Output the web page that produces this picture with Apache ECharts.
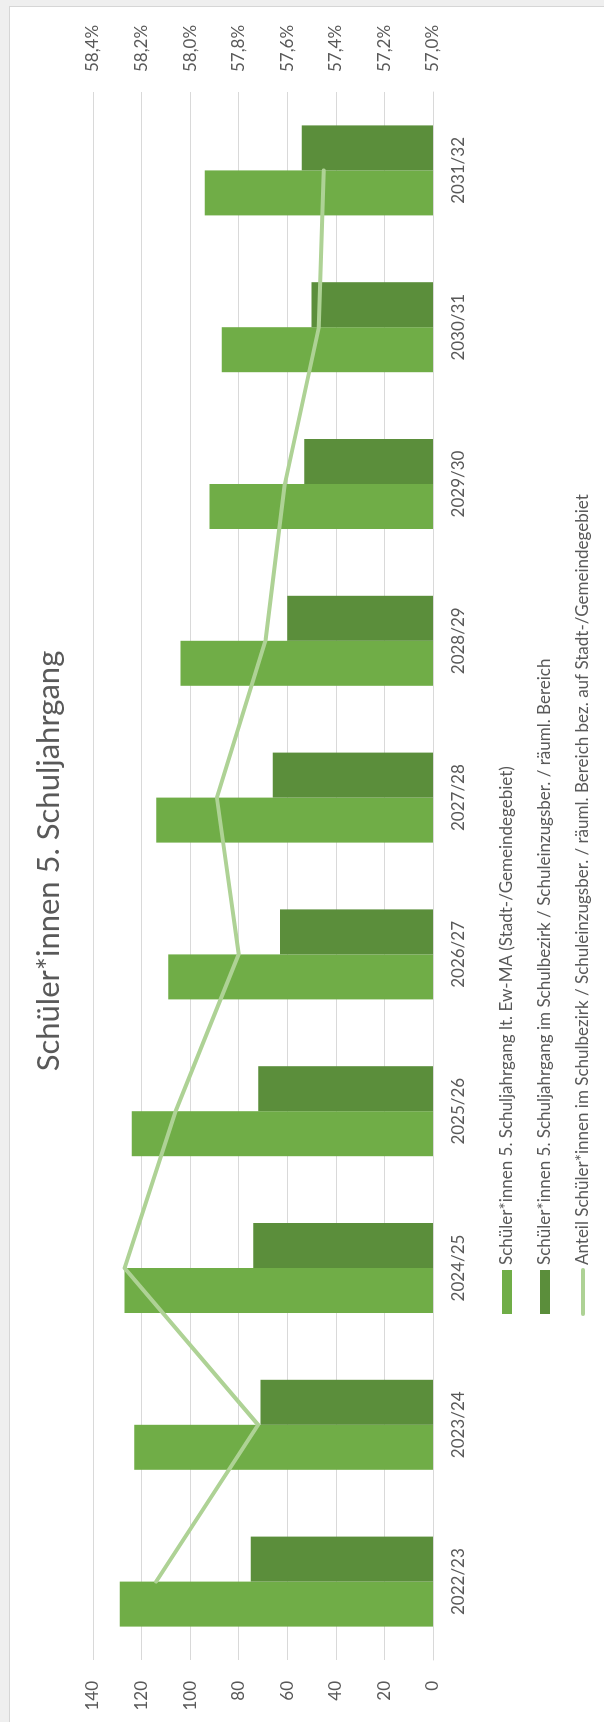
<!DOCTYPE html>
<html lang="de">
<head>
<meta charset="utf-8">
<title>Schüler*innen 5. Schuljahrgang</title>
<script src="https://cdn.jsdelivr.net/npm/echarts@6/dist/echarts.min.js"></script>
<style>
  html, body { margin: 0; padding: 0; width: 604px; height: 1722px; overflow: hidden; background: #efefef; }
  #panel { position: absolute; left: 9px; top: 6px; width: 620px; height: 1740px; background: #ffffff;
           border-left: 1px solid #d6d6d6; border-top: 1px solid #d6d6d6; }
  /* the chart is laid out landscape and turned a quarter turn to stand upright */
  #chart { position: absolute; left: 0; top: 0; width: 1722px; height: 604px;
           transform-origin: 0 0; transform: translateY(1722px) rotate(-90deg); }
</style>
</head>
<body>
<div id="panel"></div>
<div id="chart"></div>
<script>
// school years
const categories = ['2022/23', '2023/24', '2024/25', '2025/26', '2026/27', '2027/28', '2028/29', '2029/30', '2030/31', '2031/32'];
// pupils in grade 5, whole municipality (Ew-MA)
const ewmaValues = [129, 123, 127, 124, 109, 114, 104, 92, 87, 94];
// pupils in grade 5 within the school district
const bezirkValues = [75, 71, 74, 72, 63, 66, 60, 53, 50, 54];
// share of district pupils relative to the municipality, in percent
const anteilValues = [58.14, 57.72, 58.27, 58.06, 57.80, 57.89, 57.69, 57.61, 57.47, 57.45];
// axis ticks
const countTicks = [0, 20, 40, 60, 80, 100, 120, 140];
const percentTicks = [57.0, 57.2, 57.4, 57.6, 57.8, 58.0, 58.2, 58.4];

const seriesNames = [
  'Schüler*innen 5. Schuljahrgang lt. Ew-MA (Stadt-/Gemeindegebiet)',
  'Schüler*innen 5. Schuljahrgang im Schulbezirk / Schuleinzugsber. / räuml. Bereich',
  'Anteil Schüler*innen im Schulbezirk / Schuleinzugsber. / räuml. Bereich bez. auf Stadt-/Gemeindegebiet'
];

const FONT = 'Lato, "Open Sans", sans-serif';
const TEXT = '#595959';
const GRID = '#d9d9d9';
const LIGHT = '#70AD47';
const DARK = '#5B8E3B';
const PALE = '#AED295';

const chart = echarts.init(document.getElementById('chart'), null, { renderer: 'canvas' });
chart.setOption({
  animation: false,
  backgroundColor: 'transparent',
  textStyle: { fontFamily: FONT },
  title: {
    text: 'Schüler*innen 5. Schuljahrgang',
    left: 'center',
    top: 28,
    padding: [5, 73, 5, 5],
    textStyle: { fontFamily: FONT, fontSize: 31, fontWeight: 'normal', color: TEXT }
  },
  legend: {
    orient: 'vertical',
    left: 406,
    top: 497,
    padding: 0,
    itemWidth: 44,
    itemHeight: 10,
    itemGap: 18,
    textStyle: { fontFamily: FONT, fontSize: 17, lineHeight: 20, color: TEXT },
    data: [
      { name: seriesNames[0], icon: 'rect' },
      { name: seriesNames[1], icon: 'rect' },
      {
        name: seriesNames[2],
        itemStyle: { opacity: 0 },
        lineStyle: { color: PALE, width: 4, cap: 'round' }
      }
    ]
  },
  grid: { left: 62, right: 92, top: 93, bottom: 171, containLabel: false },
  xAxis: {
    type: 'category',
    data: categories,
    axisLine: { show: true, lineStyle: { color: GRID, width: 1 } },
    axisTick: { show: false },
    axisLabel: { margin: 17, fontSize: 17, color: TEXT, fontFamily: FONT }
  },
  yAxis: [
    {
      type: 'value',
      min: countTicks[0],
      max: countTicks[countTicks.length - 1],
      interval: countTicks[1] - countTicks[0],
      axisLine: { show: false },
      axisTick: { show: false },
      splitLine: { show: true, lineStyle: { color: GRID, width: 1 } },
      axisLabel: { margin: 21, fontSize: 17, color: TEXT, fontFamily: FONT }
    },
    {
      type: 'value',
      position: 'right',
      min: percentTicks[0],
      max: percentTicks[percentTicks.length - 1],
      interval: 0.2,
      axisLine: { show: false },
      axisTick: { show: false },
      splitLine: { show: false },
      axisLabel: {
        margin: 20, fontSize: 17, color: TEXT, fontFamily: FONT,
        formatter: v => v.toFixed(1).replace('.', ',') + '%'
      }
    }
  ],
  series: [
    {
      name: seriesNames[0],
      type: 'bar',
      data: ewmaValues,
      barWidth: '28.7%',
      barGap: '0%',
      itemStyle: { color: LIGHT }
    },
    {
      name: seriesNames[1],
      type: 'bar',
      data: bezirkValues,
      barWidth: '28.7%',
      barGap: '0%',
      itemStyle: { color: DARK }
    },
    {
      name: seriesNames[2],
      type: 'line',
      yAxisIndex: 1,
      data: anteilValues,
      symbol: 'none',
      z: 5,
      lineStyle: { color: PALE, width: 4, cap: 'round', join: 'round' },
      itemStyle: { color: PALE }
    }
  ]
});
</script>
</body>
</html>
